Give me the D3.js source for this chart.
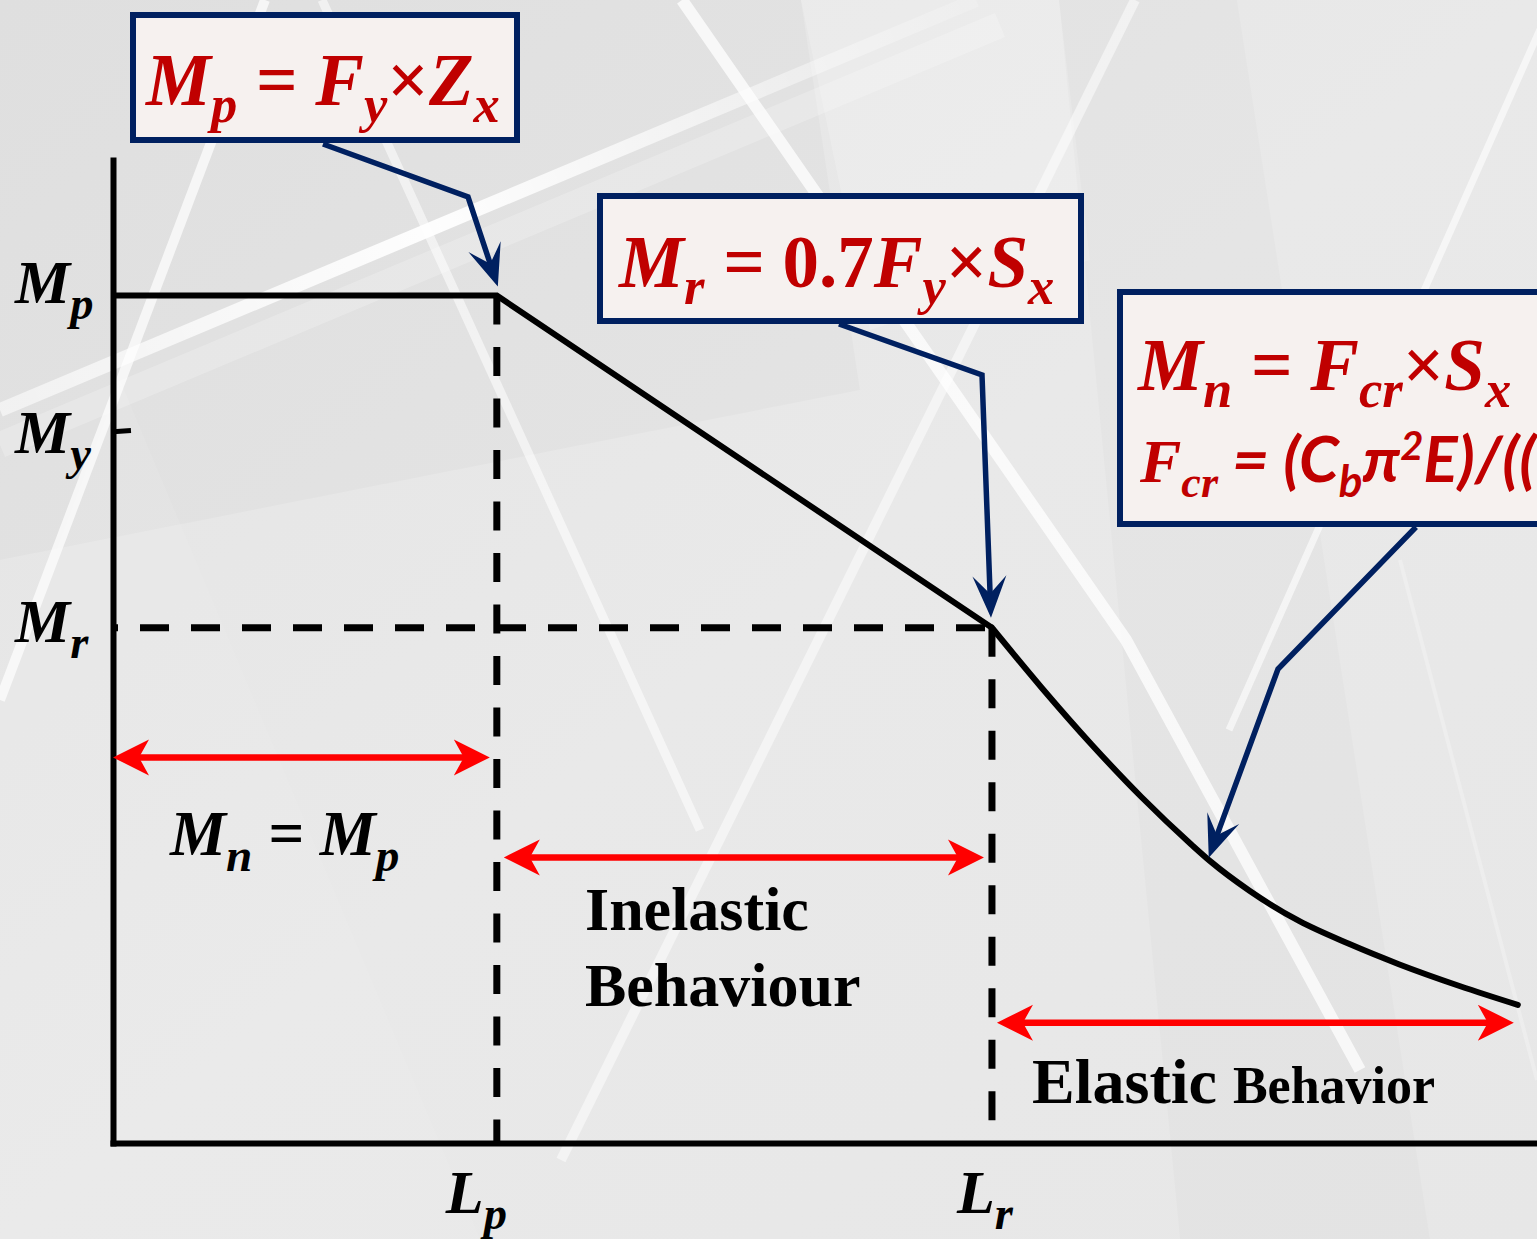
<!DOCTYPE html>
<html>
<head>
<meta charset="utf-8">
<script src="https://cdn.jsdelivr.net/npm/d3@7"></script>
<style>
  html, body { margin: 0; padding: 0; background: #e7e7e7; overflow: hidden; }
  svg { display: block; }
  text { white-space: pre; }
</style>
</head>
<body>
<svg id="chart" width="1537" height="1239"></svg>
<script>
"use strict";

// moment levels as a fraction of Mp, lengths as a fraction of Lp
const momentLevels = [1.0, 0.84, 0.608];      // Mp, My, Mr
const momentNames  = ["p", "y", "r"];
const lengthLevels = [1.0, 2.29];             // Lp, Lr
const lengthNames  = ["p", "r"];

// elastic LTB branch (after Lr)
const elasticL = [2.42, 2.55, 2.68, 2.81, 2.86, 2.96, 3.09, 3.22, 3.35, 3.51, 3.66];
const elasticM = [0.537, 0.470, 0.408, 0.352, 0.332, 0.298, 0.262, 0.235, 0.211, 0.185, 0.163];

// zone arrows (height in moment units)
const zoneArrowM = [0.455, 0.337, 0.142];

const W = 1537, H = 1239;
const serif = '"Liberation Serif", "Times New Roman", serif';
const sans = 'Lato, "Open Sans", sans-serif';
const navy = "#002060", boxRed = "#c00000", arrowRed = "#ff0000";

const svg = d3.select("#chart");

const x = d3.scaleLinear().domain([0, 3.71]).range([113, 1537]);
const y = d3.scaleLinear().domain([0, 1.16]).range([1143, 160]);

const Mp = momentLevels[0], My = momentLevels[1], Mr = momentLevels[2];
const Lp = lengthLevels[0], Lr = lengthLevels[1];

// ---------- background ----------
const defs = svg.append("defs");
const grad = defs.append("linearGradient").attr("id", "bgGrad")
    .attr("x1", 0).attr("y1", 0).attr("x2", 1).attr("y2", 1);
grad.append("stop").attr("offset", "0%").attr("stop-color", "#e4e4e4");
grad.append("stop").attr("offset", "50%").attr("stop-color", "#e9e9e9");
grad.append("stop").attr("offset", "100%").attr("stop-color", "#e7e7e7");

const fade = defs.append("linearGradient").attr("id", "bandFade")
    .attr("gradientUnits", "userSpaceOnUse")
    .attr("x1", 0).attr("y1", 410).attr("x2", 976).attr("y2", 0);
fade.append("stop").attr("offset", "0%").attr("stop-color", "#fff").attr("stop-opacity", 0.55);
fade.append("stop").attr("offset", "45%").attr("stop-color", "#fff").attr("stop-opacity", 0.95);
fade.append("stop").attr("offset", "100%").attr("stop-color", "#fff").attr("stop-opacity", 0.15);

const bg = svg.append("g");
bg.append("rect").attr("width", W).attr("height", H).attr("fill", "url(#bgGrad)");

const facets = [
  { pts: [[0, 0], [801, 0], [860, 390], [0, 560]], fill: "#000", op: 0.018 },
  { pts: [[801, 0], [1059, 0], [1090, 260], [870, 330]], fill: "#fff", op: 0.18 },
  { pts: [[1059, 0], [1237, 0], [1430, 1239], [1180, 1239]], fill: "#000", op: 0.015 },
  { pts: [[0, 700], [120, 380], [480, 1239], [0, 1239]], fill: "#fff", op: 0.08 }
];
bg.selectAll("polygon.facet").data(facets).join("polygon")
    .attr("class", "facet")
    .attr("points", d => d.pts.map(p => p.join(",")).join(" "))
    .attr("fill", d => d.fill).attr("fill-opacity", d => d.op);

const streaks = [
  { pts: [[0, 445], [1000, 25]], w: 26, op: 0.22, c: "#fff" },
  { pts: [[0, 410], [976, 0]], w: 14, op: 1, c: "url(#bandFade)" },
  { pts: [[265, 0], [0, 700]], w: 10, op: 0.7, c: "#fff" },
  { pts: [[322, 0], [700, 830]], w: 9, op: 0.55, c: "#fff" },
  { pts: [[682, 0], [1126, 640], [1360, 1070]], w: 12, op: 0.75, c: "#fff" },
  { pts: [[1135, 0], [561, 1160]], w: 10, op: 0.5, c: "#fff" },
  { pts: [[1553, 0], [1229, 730]], w: 7, op: 0.6, c: "#fff" },
  { pts: [[1400, 560], [1537, 1080]], w: 4, op: 0.25, c: "#fff" }
];
bg.selectAll("polyline.streak").data(streaks).join("polyline")
    .attr("class", "streak")
    .attr("points", d => d.pts.map(p => p.join(",")).join(" "))
    .attr("fill", "none")
    .attr("stroke", d => d.c).attr("stroke-opacity", d => d.op)
    .attr("stroke-width", d => d.w);

// ---------- rich text helper ----------
function richText(g, x0, y0, parts, o) {
  const t = g.append("text").attr("x", x0).attr("y", y0)
      .attr("fill", o.fill).attr("font-family", o.family || serif)
      .attr("font-size", o.size).attr("font-weight", "bold")
      .attr("font-style", o.italic === false ? "normal" : "italic");
  let shift = 0;
  parts.forEach(p => {
    const target = p.sub ? o.subShift : p.sup ? -o.supShift : 0;
    const ts = t.append("tspan").attr("dy", target - shift).text(p.t);
    shift = target;
    if (p.sub || p.sup) ts.attr("font-size", o.size * (o.subScale || 0.72));
    if (p.family) ts.attr("font-family", p.family);
    if (p.upright) ts.attr("font-style", "normal");
    if (p.size) ts.attr("font-size", p.size);
  });
  return t;
}

// ---------- dashed guide lines ----------
const guides = svg.append("g").attr("stroke", "#000").attr("stroke-width", 7)
    .attr("fill", "none");
guides.append("line")
    .attr("x1", x(0)).attr("x2", x(Lr)).attr("y1", y(Mr)).attr("y2", y(Mr))
    .attr("stroke-dasharray", "29 22").attr("stroke-dashoffset", 24);
guides.append("line")
    .attr("x1", x(Lp)).attr("x2", x(Lp)).attr("y1", y(Mp)).attr("y2", y(0))
    .attr("stroke-dasharray", "29 22.5");
guides.append("line")
    .attr("x1", x(Lr)).attr("x2", x(Lr)).attr("y1", y(Mr)).attr("y2", y(0))
    .attr("stroke-dasharray", "29 22.5");

// ---------- axes ----------
const yAxis = svg.append("g").attr("transform", `translate(${x(0)},0)`)
    .call(d3.axisLeft(y).tickValues([My]).tickSize(-18).tickSizeOuter(0).tickFormat(""));
yAxis.select(".domain").attr("stroke", "#000").attr("stroke-width", 6)
    .attr("stroke-linecap", "square");
yAxis.selectAll(".tick line").attr("stroke", "#000").attr("stroke-width", 5)
    .attr("transform", "rotate(-4)");

const xAxis = svg.append("g").attr("transform", `translate(0,${y(0)})`)
    .call(d3.axisBottom(x).tickValues([]).tickSizeOuter(0));
xAxis.select(".domain").attr("stroke", "#000").attr("stroke-width", 6)
    .attr("stroke-linecap", "square");

// axis labels
const labelG = svg.append("g");
const mNudge = [7, 22, 14];
momentLevels.forEach((m, i) => {
  richText(labelG, 15, y(m) + mNudge[i], [{ t: "M" }, { t: momentNames[i], sub: true }],
    { fill: "#000", size: 62, subShift: 16, subScale: 0.75 });
});
const lNudge = [-51, -35];
lengthLevels.forEach((l, i) => {
  richText(labelG, x(l) + lNudge[i], 1213, [{ t: "L" }, { t: lengthNames[i], sub: true }],
    { fill: "#000", size: 62, subShift: 16, subScale: 0.75 });
});

// ---------- strength curve ----------
const line = d3.line().x(d => x(d[0])).y(d => y(d[1]));
svg.append("path")
    .datum([[0, Mp], [Lp, Mp], [Lr, Mr]])
    .attr("d", line)
    .attr("fill", "none").attr("stroke", "#000").attr("stroke-width", 6)
    .attr("stroke-linejoin", "miter");

const elastic = [[Lr, Mr]].concat(elasticL.map((l, i) => [l, elasticM[i]]));
svg.append("path")
    .datum(elastic)
    .attr("d", line.curve(d3.curveMonotoneX))
    .attr("fill", "none").attr("stroke", "#000").attr("stroke-width", 6)
    .attr("stroke-linecap", "round");

// ---------- zone arrows ----------
function arrowHead(g, tipX, tipY, ux, uy, len, half, notch, color) {
  // ux,uy points from the tip back along the shaft
  const px = -uy, py = ux;
  const pts = [
    [tipX, tipY],
    [tipX + ux * len + px * half, tipY + uy * len + py * half],
    [tipX + ux * notch, tipY + uy * notch],
    [tipX + ux * len - px * half, tipY + uy * len - py * half]
  ];
  g.append("polygon").attr("points", pts.map(p => p.join(",")).join(" ")).attr("fill", color);
}

const zoneSpans = [[x(0), x(Lp) - 7], [x(Lp) + 7, x(Lr) - 8], [x(Lr) + 5, x(elasticL[elasticL.length - 1]) - 4]];
const zoneG = svg.append("g");
zoneSpans.forEach((s, i) => {
  const yy = y(zoneArrowM[i]);
  zoneG.append("line").attr("x1", s[0] + 20).attr("x2", s[1] - 20)
      .attr("y1", yy).attr("y2", yy)
      .attr("stroke", arrowRed).attr("stroke-width", 6.5);
  arrowHead(zoneG, s[0], yy, 1, 0, 36, 18, 26, arrowRed);
  arrowHead(zoneG, s[1], yy, -1, 0, 36, 18, 26, arrowRed);
});

richText(zoneG, 170, 855, [{ t: "M" }, { t: "n", sub: true }, { t: " = " }, { t: "M" }, { t: "p", sub: true }],
  { fill: "#000", size: 63, subShift: 16, subScale: 0.75 });
zoneG.append("text").attr("x", 585).attr("y", 930)
    .attr("font-family", serif).attr("font-weight", "bold").attr("font-size", 62)
    .text("Inelastic");
zoneG.append("text").attr("x", 585).attr("y", 1006)
    .attr("font-family", serif).attr("font-weight", "bold").attr("font-size", 62)
    .text("Behaviour");
richText(zoneG, 1032, 1103, [{ t: "Elastic " }, { t: "Behavior", size: 52 }],
  { fill: "#000", size: 64, italic: false, subShift: 0 });

// ---------- callout boxes ----------
const boxG = svg.append("g");
const boxes = [[133, 15, 384, 125], [600, 196, 481, 125], [1120, 292, 440, 232]];
boxG.selectAll("rect").data(boxes).join("rect")
    .attr("x", d => d[0]).attr("y", d => d[1]).attr("width", d => d[2]).attr("height", d => d[3])
    .attr("fill", "#f6f1ef").attr("stroke", navy).attr("stroke-width", 6);

const boxText = { fill: boxRed, size: 73, subShift: 17, subScale: 0.72 };
richText(boxG, 146, 105,
  [{ t: "M" }, { t: "p", sub: true }, { t: " = " }, { t: "F" }, { t: "y", sub: true },
   { t: "×", upright: true }, { t: "Z" }, { t: "x", sub: true }], boxText);
richText(boxG, 619, 287,
  [{ t: "M" }, { t: "r", sub: true }, { t: " = " }, { t: "0.7", upright: true }, { t: "F" }, { t: "y", sub: true },
   { t: "×", upright: true }, { t: "S" }, { t: "x", sub: true }], boxText);
richText(boxG, 1138, 390,
  [{ t: "M" }, { t: "n", sub: true }, { t: " = " }, { t: "F" }, { t: "cr", sub: true },
   { t: "×", upright: true }, { t: "S" }, { t: "x", sub: true }], boxText);
richText(boxG, 1140, 482,
  [{ t: "F", size: 62 }, { t: "cr", sub: true, size: 44 },
   { t: " = (C", family: sans, size: 64 }, { t: "b", sub: true, family: sans, size: 44 },
   { t: "π", family: sans, size: 64 }, { t: "2", sup: true, family: sans, size: 40 },
   { t: "E)/((L", family: sans, size: 64 }, { t: "b", sub: true, family: sans, size: 44 },
   { t: "/r", family: sans, size: 64 }, { t: "ts", sub: true, family: sans, size: 44 },
   { t: ")", family: sans, size: 64 }, { t: "2", sup: true, family: sans, size: 40 },
   { t: ")", family: sans, size: 64 }],
  { fill: boxRed, size: 62, subShift: 15, supShift: 22 });

// ---------- callout leaders ----------
const leaders = [
  [[323, 144], [468, 197], [x(Lp) + 1, y(Mp) - 9]],
  [[839, 324], [982, 375], [x(Lr) - 1, y(Mr) - 10]],
  [[1416, 527], [1278, 669], [x(elastic[5][0]) - 2, y(elastic[5][1]) - 4]]
];
const leadG = svg.append("g");
leaders.forEach(pts => {
  const n = pts.length;
  const tip = pts[n - 1], prev = pts[n - 2];
  const dx = prev[0] - tip[0], dy = prev[1] - tip[1];
  const len = Math.hypot(dx, dy);
  const ux = dx / len, uy = dy / len;
  const shaft = pts.slice(0, n - 1).concat([[tip[0] + ux * 20, tip[1] + uy * 20]]);
  leadG.append("polyline").attr("points", shaft.map(p => p.join(",")).join(" "))
      .attr("fill", "none").attr("stroke", navy).attr("stroke-width", 5.5)
      .attr("stroke-linejoin", "miter");
  arrowHead(leadG, tip[0], tip[1], ux, uy, 42, 17, 24, navy);
});
</script>
</body>
</html>
